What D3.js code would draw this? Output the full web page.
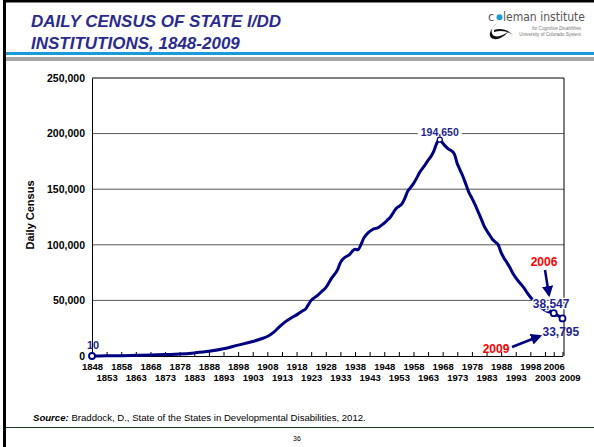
<!DOCTYPE html>
<html>
<head>
<meta charset="utf-8">
<script src="https://cdn.jsdelivr.net/npm/d3@7/dist/d3.min.js"></script>
<style>
  html, body { margin: 0; padding: 0; background: #fff; }
  svg { display: block; font-family: Arial, "Liberation Sans", sans-serif; }
</style>
</head>
<body>
<svg id="chart" width="594" height="447"></svg>
<script>
// Daily census of state I/DD institutions, 1848-2009
const years = [
  1848, 1853, 1858, 1863, 1868, 1873, 1878, 1883, 1888, 1893, 1898, 1903, 1906, 1908,
  1910, 1912, 1914, 1916, 1918, 1920, 1921, 1922, 1923, 1925, 1927, 1928, 1930, 1932,
  1933, 1934, 1936, 1938, 1939, 1940, 1941, 1942, 1944, 1946, 1947, 1948, 1949, 1950,
  1951, 1952, 1953, 1954, 1955, 1956, 1957, 1958, 1959, 1960, 1962, 1963, 1964, 1965,
  1966, 1967, 1968, 1969, 1970, 1971, 1972, 1973, 1974, 1975, 1976, 1977, 1978, 1979,
  1980, 1981, 1982, 1983, 1984, 1985, 1986, 1987, 1988, 1989, 1990, 1991, 1992, 1993,
  1994, 1995, 1996, 1997, 1998, 1999, 2000, 2001, 2002, 2003, 2004, 2005, 2006, 2007,
  2008, 2009
];
const census = [
  10, 150, 300, 600, 1000, 1300, 1800, 2800, 4200, 6500, 9800, 13000, 15500, 17500,
  21000, 26000, 30500, 34000, 37000, 40500, 42000, 46000, 50000, 54000, 59000, 61500, 70000, 77500,
  84000, 87500, 91000, 96000, 95500, 100000, 106000, 109500, 113800, 115500, 117500, 119500, 122000, 124500,
  128500, 132500, 134500, 136500, 141500, 148000, 151500, 155000, 159500, 164500, 172000, 176000, 179500, 184500,
  191500, 194650, 191500, 188500, 186000, 184500, 181500, 173000, 167000, 161000, 154000, 147000, 142000, 136500,
  130500, 124500, 118000, 113000, 109000, 105000, 102500, 100000, 93000, 88000, 84000, 79500, 74500, 70500,
  67000, 64000, 60500, 56500, 53000, 50000, 47000, 45000, 43000, 41200, 40000, 39300, 38547, 37000,
  35500, 33795
];

// Axis ticks and labels
const yTicks = [0, 50000, 100000, 150000, 200000, 250000];
const xTickYears = d3.range(1848, 2004, 5).concat([2006, 2009]);

// Annotated points
const labelPoints = [
  { year: 1848, value: 10, text: "10" },
  { year: 1967, value: 194650, text: "194,650" },
  { year: 2006, value: 38547, text: "38,547" },
  { year: 2009, value: 33795, text: "33,795" }
];
const calloutYears = ["2006", "2009"];

const titleLines = ["DAILY CENSUS OF STATE I/DD", "INSTITUTIONS, 1848-2009"];
const yAxisTitle = "Daily Census";
const sourceLabel = "Source:";
const sourceText = " Braddock, D., State of the States in Developmental Disabilities, 2012.";
const pageNumber = "36";

(function draw() {
  const navy = "#000080";
  const labelBlue = "#1f1f8f";
  const svg = d3.select("#chart");

  // ---------- page frame ----------
  svg.append("rect").attr("x", 3).attr("y", 0).attr("width", 3).attr("height", 447).attr("fill", "#000");
  svg.append("rect").attr("x", 3).attr("y", 0).attr("width", 591).attr("height", 2.5).attr("fill", "#000");
  svg.append("rect").attr("x", 6).attr("y", 52).attr("width", 588).attr("height", 3).attr("fill", "#1a9ad6");
  svg.append("rect").attr("x", 6).attr("y", 57).attr("width", 588).attr("height", 4).attr("fill", "#a6a6a6");
  svg.append("rect").attr("x", 6).attr("y", 427).attr("width", 588).attr("height", 1).attr("fill", "#1e3a1e");

  // title
  const title = svg.append("g").attr("fill", "#2b2b8f")
    .attr("font-size", 17).attr("font-weight", "bold").attr("font-style", "italic");
  titleLines.forEach((t, i) => {
    title.append("text").attr("x", 31).attr("y", 27 + i * 22).text(t);
  });

  // logo
  const logo = svg.append("g");
  logo.append("path")
    .attr("d", "M497,23 C492,27 490,31 493,35 C496,38 503,36 509,31 C504,37 498,40 494,39 C488,38 488,31 497,23 Z M494,30 C500,28 507,29 513,35 C507,31 501,30 494,32 Z")
    .attr("fill", "#111");
  logo.append("text").attr("x", 488).attr("y", 21).attr("font-size", 11.5).attr("fill", "#555")
    .attr("font-family", "Verdana, 'DejaVu Sans', sans-serif").text("c");
  logo.append("circle").attr("cx", 499.5).attr("cy", 17.3).attr("r", 3).attr("fill", "#1a9ad6");
  logo.append("text").attr("x", 503).attr("y", 21).attr("font-size", 11.5).attr("fill", "#555")
    .attr("font-family", "Verdana, 'DejaVu Sans', sans-serif")
    .attr("textLength", 82).attr("lengthAdjust", "spacingAndGlyphs").text("leman institute");
  logo.append("text").attr("x", 581).attr("y", 29.5).attr("font-size", 4.6).attr("fill", "#777")
    .attr("text-anchor", "end").attr("font-style", "italic").text("for Cognitive Disabilities");
  logo.append("text").attr("x", 581).attr("y", 35.5).attr("font-size", 4.6).attr("fill", "#777")
    .attr("text-anchor", "end").text("University of Colorado System");

  // ---------- chart ----------
  const plotLeft = 92, plotRight = 564, plotTop = 78, plotBottom = 356;
  const x = d3.scaleLinear().domain([1848, 2009]).range([plotLeft, plotRight - 1.5]);
  const y = d3.scaleLinear().domain([0, 250000]).range([plotBottom, plotTop]);

  // gridlines
  svg.append("g").selectAll("line").data(yTicks.filter(v => v > 0 && v < 250000)).join("line")
    .attr("x1", plotLeft).attr("x2", plotRight).attr("y1", d => y(d)).attr("y2", d => y(d))
    .attr("stroke", "#555").attr("stroke-width", 1);

  // plot border (top and right)
  svg.append("path")
    .attr("d", `M${plotLeft},${y(250000)}H${plotRight}V${plotBottom}`)
    .attr("fill", "none").attr("stroke", "#000").attr("stroke-width", 1);

  // y axis
  const yAxis = svg.append("g").attr("transform", `translate(${plotLeft},0)`)
    .call(d3.axisLeft(y).tickValues(yTicks).tickSize(0).tickPadding(7).tickFormat(d3.format(",")));
  yAxis.select(".domain").attr("stroke", "#000");
  yAxis.selectAll("text").attr("font-size", 10.5).attr("font-weight", "bold").attr("fill", "#000")
    .attr("font-family", "Arial, 'Liberation Sans', sans-serif");

  // x axis with inward ticks and two label rows
  const xAxis = svg.append("g").attr("transform", `translate(0,${plotBottom})`)
    .call(d3.axisBottom(x).tickValues(xTickYears).tickSizeInner(-4).tickSizeOuter(0).tickFormat(d3.format("d")));
  xAxis.select(".domain").attr("stroke", "#000");
  xAxis.selectAll(".tick line").attr("stroke", "#000");
  xAxis.selectAll("text")
    .attr("font-size", 9.5).attr("font-weight", "bold").attr("fill", "#000")
    .attr("font-family", "Arial, 'Liberation Sans', sans-serif")
    .attr("y", (d, i) => (i % 2 === 0 ? 7 : 18))
    .attr("dx", d => (d === 2009 ? 7 : 0));

  // y axis title
  svg.append("text")
    .attr("transform", `translate(34,${(plotTop + plotBottom) / 2 - 2}) rotate(-90)`)
    .attr("text-anchor", "middle").attr("font-size", 11).attr("font-weight", "bold")
    .text(yAxisTitle);

  // census line
  const line = d3.line().x((d, i) => x(years[i])).y(d => y(d)).curve(d3.curveMonotoneX);
  svg.append("path").datum(census).attr("d", line)
    .attr("fill", "none").attr("stroke", navy).attr("stroke-width", 3)
    .attr("stroke-linejoin", "round").attr("stroke-linecap", "round");

  // ---------- annotations ----------
  // peak label with white backing over the gridline
  const peak = labelPoints[1];
  svg.append("rect").attr("x", x(peak.year) - 22).attr("y", y(peak.value) - 13)
    .attr("width", 44).attr("height", 11).attr("fill", "#fff");
  svg.append("text").attr("x", x(peak.year)).attr("y", y(peak.value) - 4)
    .attr("text-anchor", "middle").attr("font-size", 10.5).attr("font-weight", "bold")
    .attr("fill", labelBlue).text(peak.text);

  // first point label
  const first = labelPoints[0];
  svg.append("text").attr("x", x(first.year) + 1).attr("y", y(first.value) - 7)
    .attr("text-anchor", "middle").attr("font-size", 11).attr("font-weight", "bold")
    .attr("fill", labelBlue).text(first.text);

  // 2006 / 2009 value labels
  const p06 = labelPoints[2], p09 = labelPoints[3];
  svg.append("text").attr("x", x(p06.year) - 21).attr("y", y(p06.value) - 5)
    .attr("font-size", 12).attr("font-weight", "bold").attr("fill", labelBlue)
    .style("paint-order", "stroke").attr("stroke", "#fff").attr("stroke-width", 2.5)
    .text(p06.text);
  svg.append("text").attr("x", x(p09.year) - 20).attr("y", y(p09.value) + 18)
    .attr("font-size", 12).attr("font-weight", "bold").attr("fill", labelBlue)
    .text(p09.text);
  // leader from value label to the 2006 point
  svg.append("line").attr("x1", x(p06.year) - 4).attr("y1", y(p06.value) - 3)
    .attr("x2", x(p06.year)).attr("y2", y(p06.value))
    .attr("stroke", navy).attr("stroke-width", 2);

  // marker circles
  svg.append("g").selectAll("circle").data(labelPoints).join("circle")
    .attr("cx", d => x(d.year)).attr("cy", d => y(d.value))
    .attr("r", d => (d.year === 1967 ? 2.5 : 3))
    .attr("fill", "#fff").attr("stroke", navy).attr("stroke-width", d => (d.year === 1967 ? 1.2 : 1.8));

  // red year callouts with arrows
  svg.append("defs").append("marker").attr("id", "arrow")
    .attr("viewBox", "0 0 10 10").attr("refX", 8).attr("refY", 5)
    .attr("markerWidth", 4.5).attr("markerHeight", 4.5).attr("orient", "auto")
    .append("path").attr("d", "M0,0L10,5L0,10Z").attr("fill", navy);

  svg.append("text").attr("x", 544).attr("y", 266)
    .attr("text-anchor", "middle").attr("font-size", 12).attr("font-weight", "bold")
    .attr("fill", "#ff0000").text(calloutYears[0]);
  svg.append("line").attr("x1", 545).attr("y1", 270).attr("x2", 549).attr("y2", 295)
    .attr("stroke", navy).attr("stroke-width", 2.5).attr("marker-end", "url(#arrow)");

  svg.append("text").attr("x", 496).attr("y", 353)
    .attr("text-anchor", "middle").attr("font-size", 12).attr("font-weight", "bold")
    .attr("fill", "#ff0000").text(calloutYears[1]);
  svg.append("line").attr("x1", 512).attr("y1", 347).attr("x2", 540).attr("y2", 336)
    .attr("stroke", navy).attr("stroke-width", 2.5).attr("marker-end", "url(#arrow)");

  // ---------- footer ----------
  const src = svg.append("text").attr("x", 33).attr("y", 421).attr("font-size", 9.6).attr("fill", "#000");
  src.append("tspan").attr("font-weight", "bold").attr("font-style", "italic").text(sourceLabel);
  src.append("tspan").text(sourceText);
  svg.append("text").attr("x", 297).attr("y", 441).attr("text-anchor", "middle")
    .attr("font-size", 7).attr("fill", "#000").text(pageNumber);
})();
</script>
</body>
</html>
